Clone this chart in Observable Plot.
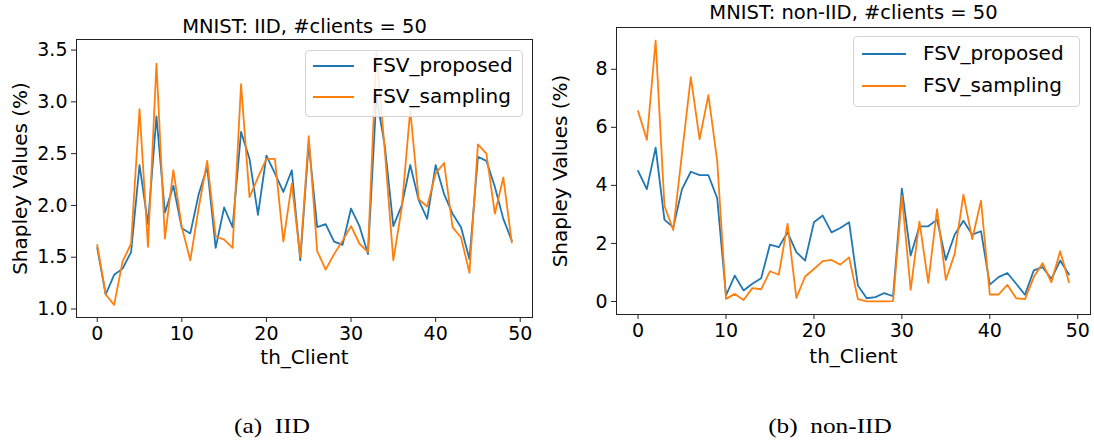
<!DOCTYPE html>
<html>
<head>
<meta charset="utf-8">
<script src="https://cdn.jsdelivr.net/npm/d3@7"></script>
<script src="https://cdn.jsdelivr.net/npm/@observablehq/plot@0.6"></script>
<style>
  html, body { margin: 0; padding: 0; background: #fff; }
  body { width: 1094px; height: 444px; position: relative; overflow: hidden; font-family: "DejaVu Sans", sans-serif; }
  .panel { position: absolute; top: 0; }
  .legend { position: absolute; box-sizing: border-box; border: 1px solid #d4d4d4; border-radius: 4px; background: rgba(255,255,255,0.85); }
  .legend .row { position: absolute; left: 0; right: 0; height: 0; }
  .legend .sw { position: absolute; height: 0; border-top: 2px solid; }
  .legend .lab { position: absolute; font-size: 20px; line-height: 20px; color: #000; white-space: nowrap; }
  .caption { position: absolute; font-family: "Liberation Serif", "Times New Roman", serif; font-size: 22px; line-height: 22px; color: #000; white-space: pre; transform: translateX(-50%) scaleX(1.15); }
</style>
</head>
<body>
<script>
// ---- data ----
const clients = d3.range(50);
const seriesNames = ["FSV_proposed", "FSV_sampling"];
const seriesColors = ["#1f77b4", "#ff7f0e"];
const xTicks = [0, 10, 20, 30, 40, 50];

const iidTitle = "MNIST: IID, #clients = 50";
const iidYTicks = [1.0, 1.5, 2.0, 2.5, 3.0, 3.5];
const iidProposed = [1.59,1.14,1.33,1.39,1.55,2.39,1.82,2.86,1.93,2.19,1.78,1.73,2.11,2.37,1.59,1.98,1.79,2.71,2.45,1.91,2.48,2.31,2.13,2.34,1.47,2.60,1.79,1.82,1.65,1.62,1.97,1.80,1.53,3.05,2.57,1.80,2.00,2.39,2.05,1.87,2.39,2.11,1.92,1.79,1.48,2.47,2.43,2.18,1.87,1.66];
const iidSampling = [1.62,1.14,1.04,1.46,1.63,2.93,1.60,3.37,1.68,2.34,1.79,1.47,1.98,2.43,1.70,1.67,1.59,3.17,2.08,2.27,2.45,2.45,1.65,2.21,1.50,2.67,1.56,1.38,1.53,1.66,1.80,1.63,1.55,3.48,2.52,1.47,1.98,2.92,2.06,1.99,2.31,2.41,1.79,1.69,1.35,2.59,2.50,1.92,2.27,1.64];

const nonIidTitle = "MNIST: non-IID, #clients = 50";
const nonIidYTicks = [0, 2, 4, 6, 8];
const nonIidProposed = [4.50,3.87,5.30,2.82,2.55,3.87,4.47,4.35,4.35,3.56,0.21,0.89,0.38,0.61,0.80,1.96,1.87,2.38,1.70,1.41,2.73,2.96,2.38,2.53,2.73,0.55,0.11,0.15,0.29,0.18,3.89,1.58,2.59,2.59,2.82,1.43,2.30,2.78,2.30,2.42,0.58,0.84,0.98,0.61,0.23,1.07,1.18,0.78,1.41,0.93];
const nonIidSampling = [6.56,5.57,8.99,3.30,2.46,5.10,7.73,5.59,7.11,4.85,0.09,0.26,0.05,0.46,0.42,1.04,0.92,2.67,0.12,0.86,1.12,1.39,1.43,1.27,1.52,0.08,0.00,0.00,0.00,0.01,3.64,0.40,2.75,0.64,3.18,0.74,1.64,3.68,2.15,3.47,0.24,0.24,0.57,0.11,0.08,0.84,1.32,0.66,1.73,0.66];

const xLabel = "th_Client";
const yLabel = "Shapley Values (%)";
const captions = ["(a)  IID", "(b)  non-IID"];

// ---- chart builder ----
function padded(values) {
  const [lo, hi] = d3.extent(values);
  const p = (hi - lo) * 0.05;
  return [lo - p, hi + p];
}

function makePanel(cfg) {
  const rows = [];
  [cfg.proposed, cfg.sampling].forEach((vals, k) => {
    clients.forEach((c, i) => rows.push({client: c, value: vals[i], series: seriesNames[k]}));
  });
  return Plot.plot({
    width: cfg.width,
    height: cfg.height,
    marginLeft: cfg.ml, marginRight: cfg.mr, marginTop: cfg.mt, marginBottom: cfg.mb,
    style: {fontFamily: "DejaVu Sans, sans-serif", fontSize: "19px", color: "#000", background: "transparent", overflow: "visible"},
    x: {domain: padded(clients)},
    y: {domain: padded(cfg.proposed.concat(cfg.sampling))},
    color: {domain: seriesNames, range: seriesColors},
    marks: [
      Plot.axisX({ticks: xTicks, tickSize: 5, tickPadding: 4, fontSize: 19, stroke: "#222", label: null}),
      Plot.axisX({ticks: [], tickSize: 0, fontSize: 20,
                  label: xLabel, labelAnchor: "center", labelArrow: "none", labelOffset: cfg.xLabelOffset}),
      Plot.axisY({ticks: cfg.yTicks, tickFormat: cfg.yFormat, tickSize: 5, tickPadding: 4, fontSize: 19, stroke: "#222", label: null}),
      Plot.axisY({ticks: [], tickSize: 0, fontSize: 20,
                  label: yLabel, labelAnchor: "center", labelArrow: "none", labelOffset: 64}),
      Plot.line(rows, {x: "client", y: "value", z: "series", stroke: "series", strokeWidth: 1.8, strokeLinejoin: "round"}),
      Plot.frame({stroke: "#222", strokeWidth: 1}),
      Plot.text([cfg.title], {text: d => d, frameAnchor: "top", lineAnchor: "bottom", dy: cfg.titleDy, fontSize: 19.5})
    ]
  });
}

function addLegend(box) {
  const lg = document.createElement("div");
  lg.className = "legend";
  Object.assign(lg.style, {left: box.x + "px", top: box.y + "px", width: box.w + "px", height: box.h + "px"});
  seriesNames.forEach((name, k) => {
    const row = document.createElement("div");
    row.className = "row";
    row.style.top = box.rows[k] + "px";
    const sw = document.createElement("div");
    sw.className = "sw";
    Object.assign(sw.style, {left: box.sw[0] + "px", width: (box.sw[1] - box.sw[0]) + "px", borderColor: seriesColors[k], top: "-1px"});
    const lab = document.createElement("div");
    lab.className = "lab";
    lab.textContent = name;
    Object.assign(lab.style, {left: box.tx + "px", top: "-11px"});
    row.appendChild(sw); row.appendChild(lab);
    lg.appendChild(row);
  });
  document.body.appendChild(lg);
}

const left = makePanel({title: iidTitle, proposed: iidProposed, sampling: iidSampling,
  yTicks: iidYTicks, yFormat: d3.format(".1f"), width: 547, height: 380, ml: 76, mr: 15, mt: 39, mb: 63,
  xLabelOffset: 46, titleDy: -6.5});
left.classList.add("panel");
left.style.left = "0px";
document.body.appendChild(left);

const right = makePanel({title: nonIidTitle, proposed: nonIidProposed, sampling: nonIidSampling,
  yTicks: nonIidYTicks, yFormat: d3.format("d"), width: 554, height: 380, ml: 76, mr: 4, mt: 27, mb: 66,
  xLabelOffset: 48, titleDy: -8.5});
right.classList.add("panel");
right.style.left = "540px";
document.body.appendChild(right);

addLegend({x: 305, y: 50, w: 218, h: 67, rows: [15, 46], sw: [7, 48], tx: 66});
addLegend({x: 853, y: 36, w: 227, h: 71, rows: [17, 49], sw: [8, 52], tx: 69});

[[272, captions[0]], [830, captions[1]]].forEach(([cx, t]) => {
  const d = document.createElement("div");
  d.className = "caption";
  d.textContent = t;
  Object.assign(d.style, {left: cx + "px", top: "415px"});
  document.body.appendChild(d);
});
</script>
</body>
</html>
